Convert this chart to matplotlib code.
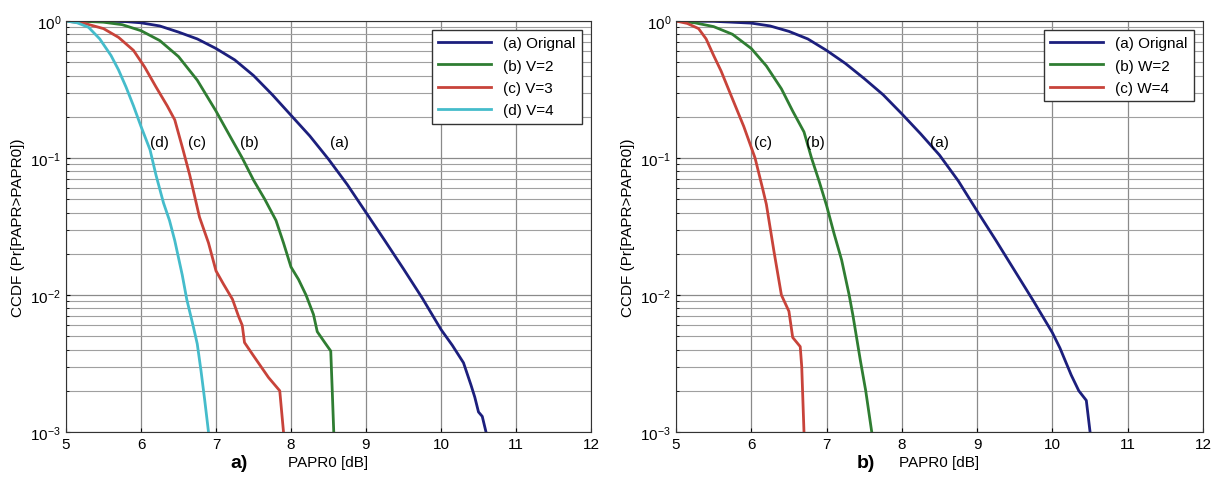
import matplotlib
matplotlib.use('Agg')
import matplotlib.pyplot as plt
from matplotlib.ticker import LogLocator, NullFormatter
import numpy as np

plt.rcParams['font.family'] = ['Liberation Sans', 'DejaVu Sans']

# panel a) data
a_orig_x = [5.0, 5.5, 5.8, 6.0, 6.25, 6.5, 6.75, 7.0, 7.25, 7.5, 7.75, 8.0, 8.25, 8.5, 8.75,
            9.0, 9.25, 9.5, 9.75, 10.0, 10.15, 10.3, 10.4, 10.45, 10.5, 10.55, 10.6]
a_orig_y = [1.0, 0.998, 0.99, 0.97, 0.92, 0.83, 0.74, 0.63, 0.52, 0.40, 0.29, 0.205, 0.145, 0.098, 0.064,
            0.040, 0.025, 0.0155, 0.0095, 0.0056, 0.0043, 0.0032, 0.0022, 0.0018, 0.0014, 0.0013, 0.001]
a_v2_x = [5.0, 5.25, 5.5, 5.75, 6.0, 6.25, 6.5, 6.75, 7.0, 7.2, 7.35, 7.5, 7.65, 7.8, 7.9, 8.0,
          8.1, 8.2, 8.3, 8.35, 8.45, 8.53, 8.55, 8.57]
a_v2_y = [1.0, 0.995, 0.98, 0.94, 0.85, 0.72, 0.55, 0.37, 0.22, 0.14, 0.10, 0.069, 0.05, 0.035, 0.024, 0.016,
          0.013, 0.010, 0.0072, 0.0054, 0.0045, 0.0039, 0.0020, 0.001]
a_v3_x = [5.0, 5.25, 5.5, 5.7, 5.9, 6.05, 6.2, 6.35, 6.45, 6.56, 6.65, 6.78, 6.9, 7.0, 7.1,
          7.22, 7.3, 7.35, 7.38, 7.5, 7.7, 7.85, 7.9]
a_v3_y = [1.0, 0.96, 0.88, 0.76, 0.61, 0.46, 0.33, 0.24, 0.19, 0.115, 0.075, 0.037, 0.024, 0.015, 0.012,
          0.0093, 0.007, 0.006, 0.0045, 0.0036, 0.0025, 0.002, 0.001]
a_v4_x = [5.0, 5.15, 5.3, 5.45, 5.6, 5.7, 5.8, 5.9, 6.0, 6.12, 6.2, 6.3, 6.38, 6.45, 6.55,
          6.61, 6.7, 6.75, 6.8, 6.85, 6.9]
a_v4_y = [1.0, 0.97, 0.90, 0.74, 0.56, 0.44, 0.33, 0.24, 0.17, 0.115, 0.075, 0.047, 0.035, 0.025, 0.014,
          0.0093, 0.0058, 0.0044, 0.0028, 0.0017, 0.001]

# panel b) data
b_orig_x = [5.0, 5.5, 6.0, 6.25, 6.5, 6.75, 7.0, 7.25, 7.5, 7.75, 8.0, 8.25, 8.5, 8.75, 9.0,
            9.25, 9.5, 9.75, 10.0, 10.1, 10.25, 10.35, 10.45, 10.5]
b_orig_y = [1.0, 0.995, 0.965, 0.92, 0.84, 0.74, 0.61, 0.49, 0.38, 0.29, 0.21, 0.15, 0.105, 0.068, 0.041,
            0.025, 0.015, 0.009, 0.0053, 0.0041, 0.0026, 0.0020, 0.0017, 0.001]
b_w2_x = [5.0, 5.25, 5.5, 5.75, 6.0, 6.2, 6.4, 6.55, 6.7, 6.8, 6.9, 7.0, 7.1, 7.2, 7.3,
          7.35, 7.45, 7.52, 7.6]
b_w2_y = [1.0, 0.97, 0.91, 0.80, 0.63, 0.47, 0.32, 0.22, 0.155, 0.10, 0.068, 0.045, 0.028, 0.018, 0.010,
          0.0071, 0.0033, 0.002, 0.001]
b_w4_x = [5.0, 5.15, 5.3, 5.4, 5.5, 5.6, 5.75, 5.9, 6.05, 6.15, 6.2, 6.3, 6.4, 6.5, 6.55,
          6.65, 6.67, 6.7]
b_w4_y = [1.0, 0.96, 0.88, 0.74, 0.56, 0.43, 0.27, 0.17, 0.10, 0.06, 0.046, 0.021, 0.010, 0.0076, 0.0049,
          0.0042, 0.003, 0.001]

navy = '#1c1f7d'
green = '#2f7d32'
red = '#c8433a'
cyan = '#45bccb'


def setup(ax, tag, tag_x, label_pos):
    ax.set_yscale('log')
    ax.set_xlim(5, 12)
    ax.set_ylim(1e-3, 1)
    ax.set_xticks(range(5, 13))
    ax.yaxis.set_major_locator(LogLocator(base=10, numticks=10))
    ax.yaxis.set_minor_locator(LogLocator(base=10, subs=np.arange(2, 10), numticks=10))
    ax.yaxis.set_minor_formatter(NullFormatter())
    ax.grid(True, which='major', color='#8a8a8a', lw=0.9)
    ax.grid(True, which='minor', axis='y', color='#a0a0a0', lw=0.8)
    ax.tick_params(labelsize=11, direction='in', length=3)
    ax.tick_params(which='minor', length=2, direction='in')
    ax.set_ylabel('CCDF (Pr[PAPR>PAPR0])', fontsize=11)
    ax.set_xlabel('PAPR0 [dB]', fontsize=11, labelpad=3)
    for s in ax.spines.values():
        s.set_color('#333333')
    for txt, x in label_pos:
        ax.text(x, 0.13, txt, fontsize=11, ha='center', va='center')
    ax.text(tag_x, -0.075, tag, transform=ax.transAxes, fontsize=14, fontweight='bold',
            ha='center', va='center')
    leg = ax.legend(loc='upper right', fontsize=11, fancybox=False, framealpha=1,
                    edgecolor='#333333', handlelength=3.5, borderaxespad=0.6,
                    labelspacing=0.55)
    leg.get_frame().set_linewidth(1.0)


fig = plt.figure(figsize=(12.27, 4.81), dpi=100)
ax1 = fig.add_axes([66 / 1227, 1 - 433 / 481, 525 / 1227, 411 / 481])
ax2 = fig.add_axes([676 / 1227, 1 - 433 / 481, 527 / 1227, 411 / 481])

ax1.plot(a_orig_x, a_orig_y, color=navy, lw=2, label='(a) Orignal')
ax1.plot(a_v2_x, a_v2_y, color=green, lw=2, label='(b) V=2')
ax1.plot(a_v3_x, a_v3_y, color=red, lw=2, label='(c) V=3')
ax1.plot(a_v4_x, a_v4_y, color=cyan, lw=2, label='(d) V=4')
setup(ax1, 'a)', 0.33, [('(d)', 6.25), ('(c)', 6.75), ('(b)', 7.45), ('(a)', 8.65)])

ax2.plot(b_orig_x, b_orig_y, color=navy, lw=2, label='(a) Orignal')
ax2.plot(b_w2_x, b_w2_y, color=green, lw=2, label='(b) W=2')
ax2.plot(b_w4_x, b_w4_y, color=red, lw=2, label='(c) W=4')
setup(ax2, 'b)', 0.36, [('(c)', 6.15), ('(b)', 6.85), ('(a)', 8.5)])

fig.savefig('out.png', dpi=100)
